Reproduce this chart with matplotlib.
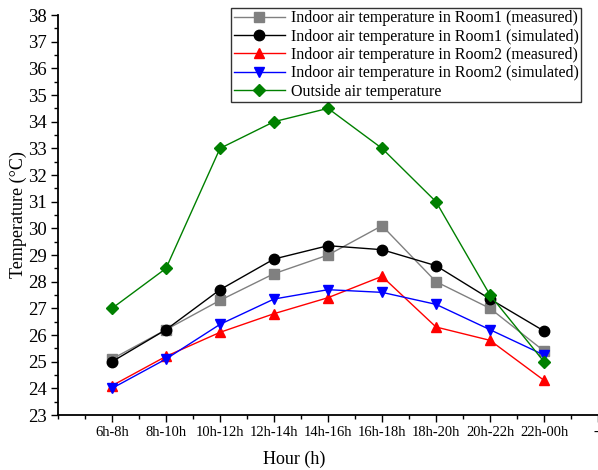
import matplotlib
matplotlib.use("Agg")
import matplotlib.pyplot as plt
from matplotlib.ticker import MultipleLocator

plt.rcParams["font.family"] = ["Liberation Serif", "DejaVu Serif"]

hours = ["6h-8h", "8h-10h", "10h-12h", "12h-14h", "14h-16h",
         "16h-18h", "18h-20h", "20h-22h", "22h-00h"]
room1_meas = [25.1, 26.2, 27.3, 28.3, 29.0, 30.1, 28.0, 27.0, 25.4]
room1_sim = [25.0, 26.2, 27.7, 28.85, 29.35, 29.2, 28.6, 27.35, 26.15]
room2_meas = [24.1, 25.2, 26.1, 26.8, 27.4, 28.2, 26.3, 25.8, 24.3]
room2_sim = [24.0, 25.1, 26.4, 27.35, 27.7, 27.6, 27.15, 26.2, 25.25]
outside = [27.0, 28.5, 33.0, 34.0, 34.5, 33.0, 31.0, 27.5, 25.0]

fig = plt.figure(figsize=(5.98, 4.70), dpi=100)
ax = fig.add_axes([0.097, 0.117, 0.903, 0.851])

x = list(range(1, len(hours) + 1))
ax.plot(x, room1_meas, color="gray", marker="s", ms=6.5, lw=1,
        label="Indoor air temperature in Room1 (measured)")
ax.plot(x, room1_sim, color="black", marker="o", ms=7.5, lw=1,
        label="Indoor air temperature in Room1 (simulated)")
ax.plot(x, room2_meas, color="red", marker="^", ms=7.5, lw=1,
        label="Indoor air temperature in Room2 (measured)")
ax.plot(x, room2_sim, color="blue", marker="v", ms=7.5, lw=1,
        label="Indoor air temperature in Room2 (simulated)")
ax.plot(x, outside, color="green", marker="D", ms=6.5, lw=1,
        label="Outside air temperature")

ax.set_xlim(0, 10)
ax.set_ylim(23, 38)
ax.set_xticks(x + [10])
ax.set_xticklabels(hours + ["--"])
ax.xaxis.set_minor_locator(MultipleLocator(0.5))
ax.yaxis.set_major_locator(MultipleLocator(1))
ax.yaxis.set_minor_locator(MultipleLocator(0.5))
ax.tick_params(which="major", length=5, width=1, direction="out")
ax.tick_params(which="minor", length=3, width=1, direction="out")
ax.tick_params(axis="x", labelsize=10.5, pad=3)
ax.tick_params(axis="y", labelsize=13.5, pad=3)
ax.spines["top"].set_visible(False)
ax.spines["right"].set_visible(False)
ax.spines["left"].set_linewidth(1.3)
ax.spines["bottom"].set_linewidth(1.3)

ax.set_xlabel("Hour (h)", fontsize=13)
ax.xaxis.set_label_coords(0.437, -0.088)
ax.set_ylabel("Temperature (°C)", fontsize=13)
ax.yaxis.set_label_coords(-0.058, 0.5)

leg = ax.legend(loc="upper right", bbox_to_anchor=(0.977, 1.03), fontsize=11.5,
                frameon=True, fancybox=False, edgecolor="black",
                handlelength=3.2, borderpad=0.15, labelspacing=0.15, handletextpad=0.35,
                borderaxespad=0.3)
leg.get_frame().set_linewidth(1)

fig.savefig("out.png", dpi=100)
